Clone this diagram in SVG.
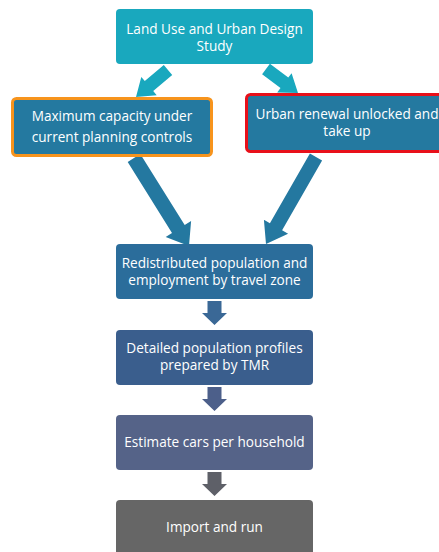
<svg xmlns="http://www.w3.org/2000/svg" width="439" height="552" viewBox="0 0 439 552">
<style>
text{font-family:"Open Sans","Noto Sans",sans-serif;font-size:13.6px;fill:#ffffff;text-anchor:middle}
.teal{fill:#19A8BE}
.blue{fill:#2478A0}
</style>
<rect width="439" height="552" fill="#ffffff"/>
<g id="connectors">
<polygon class="teal" points="163.8,65 144.8,81.1 141.3,76.9 136,97 156.7,95.2 153.2,91 172.2,75"/>
<polygon class="teal" points="262.1,74.2 280.5,88 277.2,92.4 298,93 291.6,73.2 288.3,77.6 269.9,63.8"/>
<polygon class="blue" points="127.7,162 172.0,233.0 165.7,237 189,246 191.1,221.1 184.7,225.0 140.3,154"/>
<polygon class="blue" points="309.9,153.5 269.9,223.2 263.9,219.7 266,244 288.1,233.7 282.1,230.2 322.1,160.5"/>
<polygon fill="#3A6896" points="207.5,301 221.5,301 221.5,313 227,313 214.5,325 202,313 207.5,313"/>
<polygon fill="#4C5F8A" points="207.5,387 221.5,387 221.5,399 227,399 214.5,411 202,399 207.5,399"/>
<polygon fill="#5E6068" points="207.5,472 221.5,472 221.5,484 227,484 214.5,496 202,484 207.5,484"/>
</g>
<g id="n1">
<rect x="116" y="9" width="197" height="55" rx="4" fill="#19A8BE"/>
<text x="214.5" y="33.5">Land Use and Urban Design</text>
<text x="214.5" y="50.5">Study</text>
</g>
<g id="n2">
<rect x="12.5" y="98.5" width="199" height="57" rx="4" fill="#2479A0" stroke="#F7941D" stroke-width="3"/>
<text x="112" y="121">Maximum capacity under</text>
<text x="112" y="142">current planning controls</text>
</g>
<g id="n3">
<rect x="246.5" y="94.5" width="202" height="57" rx="4" fill="#2479A0" stroke="#E8101A" stroke-width="3"/>
<text x="347" y="118.5">Urban renewal unlocked and</text>
<text x="347" y="135.5">take up</text>
</g>
<g id="n4">
<rect x="116" y="244" width="197" height="55" rx="4" fill="#2B6D9B"/>
<text x="214.5" y="267.5">Redistributed population and</text>
<text x="214.5" y="284.5">employment by travel zone</text>
</g>
<g id="n5">
<rect x="116" y="330" width="197" height="55" rx="4" fill="#3A5E8D"/>
<text x="214.5" y="353">Detailed population profiles</text>
<text x="214.5" y="369.5">prepared by TMR</text>
</g>
<g id="n6">
<rect x="116" y="415" width="197" height="55" rx="4" fill="#556388"/>
<text x="214.5" y="447">Estimate cars per household</text>
</g>
<g id="n7">
<rect x="116" y="500" width="197" height="60" rx="4" fill="#666666"/>
<text x="214.5" y="532">Import and run</text>
</g>
</svg>
